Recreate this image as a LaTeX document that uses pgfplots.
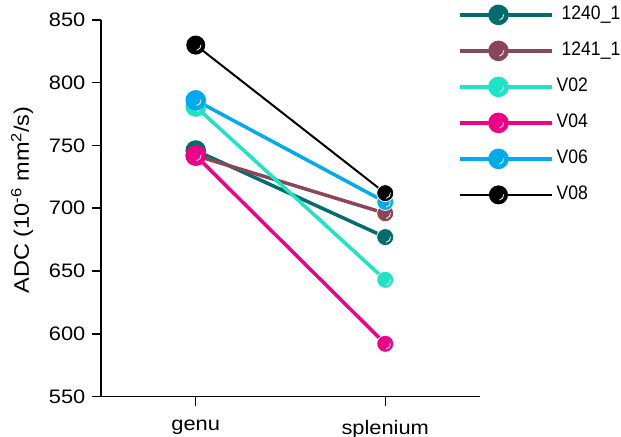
\documentclass[border=0pt]{standalone}
\usepackage{pgfplots}
\pgfplotsset{compat=1.18}
\usepackage{fontspec}
\setmainfont{Liberation Sans}[FakeStretch=1.12]
\newfontfamily\legfont{Liberation Sans}[FakeStretch=0.9]
\definecolor{cA}{RGB}{0,108,110}
\definecolor{cB}{RGB}{139,69,89}
\definecolor{cC}{RGB}{30,227,196}
\definecolor{cD}{RGB}{236,0,135}
\definecolor{cE}{RGB}{0,170,236}
\definecolor{cF}{RGB}{0,0,0}
\pgfdeclareplotmark{glossy}{%
  \pgfpathcircle{\pgfpointorigin}{\pgfplotmarksize}%
  \pgfusepathqfillstroke
  \pgfsetstrokecolor{white}\pgfsetlinewidth{0.8bp}%
  \pgfpathmoveto{\pgfpointpolar{-80}{0.62\pgfplotmarksize}}%
  \pgfpatharc{-80}{5}{0.62\pgfplotmarksize}%
  \pgfusepathqstroke
}
\begin{document}
\fontsize{19.5bp}{22bp}\selectfont
\begin{tikzpicture}
\begin{axis}[
  scale only axis, width=379bp, height=376.5bp,
  xmin=-0.5, xmax=1.5, ymin=550, ymax=850,
  axis x line*=bottom, axis y line*=left,
  xtick={0,1}, xticklabels={genu,splenium},
  ytick={550,600,...,850},
  tick align=outside, major tick length=9bp,
  axis line style={line width=1.5bp},
  every tick/.style={line width=1.5bp, black},
  /pgf/number format/assume math mode=true,
  /pgf/number format/1000 sep={},
  tick label style={font=\fontsize{19.5bp}{22bp}\selectfont},
  xticklabel style={yshift=-8bp},
  ylabel={ADC (10\textsuperscript{-6} mm\textsuperscript{2}/s)},
  ylabel style={at={(axis description cs:-0.208,0.522)}, anchor=center, font=\fontsize{21bp}{24bp}\selectfont},
  clip=false,
  legend image code/.code={
    \path (0bp,0bp) -- (92bp,0bp);
    \draw[#1, mark repeat=2, mark phase=2] plot coordinates {(0bp,0bp)(38.5bp,0bp)(77bp,0bp)};
  },
  legend style={at={(axis description cs:0.942,1.046)}, anchor=north west, draw=none, fill=none,
    inner sep=0pt, row sep=12bp, font=\legfont\fontsize{19.5bp}{22bp}\selectfont,
    nodes={text height=14bp, text depth=4bp, inner sep=3bp},
    cells={anchor=west}},
  every axis plot/.append style={mark=glossy, mark size=8.5bp},
]
\addplot[color=cA, line width=3.5bp, mark options={solid, fill=cA, draw=cA}] coordinates {(0,746) (1,677)};
\addlegendentry{\hspace{5bp}1240\_1}
\addplot[color=cB, line width=3.5bp, mark options={solid, fill=cB, draw=cB}] coordinates {(0,742) (1,696)};
\addlegendentry{\hspace{5bp}1241\_1}
\addplot[color=cC, line width=3.5bp, mark options={solid, fill=cC, draw=cC}] coordinates {(0,781) (1,643)};
\addlegendentry{V02}
\addplot[color=cD, line width=3.5bp, mark options={solid, fill=cD, draw=cD}] coordinates {(0,742) (1,592)};
\addlegendentry{V04}
\addplot[color=cE, line width=3.5bp, mark options={solid, fill=cE, draw=cE}] coordinates {(0,786) (1,705)};
\addlegendentry{V06}
\addplot[color=cF, line width=2bp, mark options={solid, fill=cF, draw=cF}] coordinates {(0,830) (1,712)};
\addlegendentry{V08}
\coordinate (ll) at (rel axis cs:0,0);
\end{axis}
\pgfresetboundingbox
\path[use as bounding box] (ll) ++(-101bp,-40.5bp) rectangle ++(621bp,437bp);
\end{tikzpicture}
\end{document}
